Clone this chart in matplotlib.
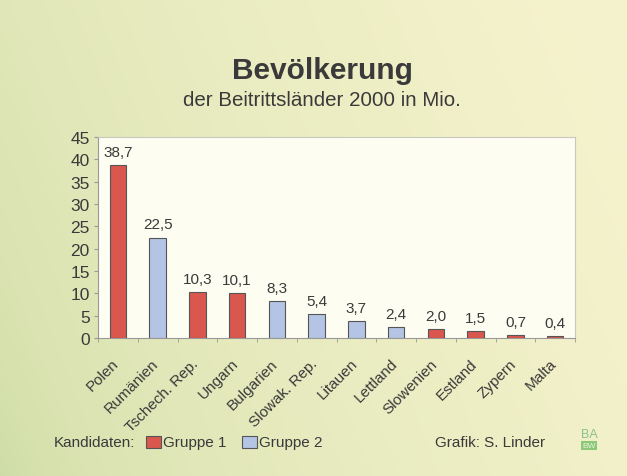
import numpy as np
import matplotlib
matplotlib.use("Agg")
import matplotlib.pyplot as plt
from matplotlib.patches import Rectangle
from matplotlib.transforms import ScaledTranslation

plt.rcParams['font.family'] = ['Liberation Sans', 'DejaVu Sans']

countries = ["Polen", "Rumänien", "Tschech. Rep.", "Ungarn", "Bulgarien", "Slowak. Rep.",
             "Litauen", "Lettland", "Slowenien", "Estland", "Zypern", "Malta"]
population = [38.7, 22.5, 10.3, 10.1, 8.3, 5.4, 3.7, 2.4, 2.0, 1.5, 0.7, 0.4]
groups = [1, 2, 1, 1, 2, 2, 2, 2, 1, 1, 1, 1]
value_labels = ["38,7", "22,5", "10,3", "10,1", "8,3", "5,4", "3,7", "2,4", "2,0", "1,5", "0,7", "0,4"]
yticks = [0, 5, 10, 15, 20, 25, 30, 35, 40, 45]

RED = "#d9574d"
BLUE = "#b4c4e4"
TXT = "#3a3a3a"

fig = plt.figure(figsize=(6.27, 4.77), dpi=100)

# background gradient
bg = fig.add_axes([0, 0, 1, 1], zorder=-10)
h, w = 120, 160
yy, xx = np.mgrid[0:h, 0:w]
t = np.clip((xx / w) * 0.85 + (1 - yy / h) * 0.25, 0, 1)
t = t ** 0.5
c_left = np.array([0.80, 0.86, 0.64])
c_right = np.array([0.96, 0.95, 0.80])
img = c_left[None, None, :] * (1 - t[..., None]) + c_right[None, None, :] * t[..., None]
bg.imshow(img, aspect='auto', extent=[0, 1, 0, 1], interpolation='bilinear')
bg.axis('off')

W, H = 627, 477
L, R, T, B = 98, 575, 138, 339
ax = fig.add_axes([L / W, 1 - B / H, (R - L) / W, (B - T) / H])
ax.set_facecolor("#fdfdf2")

x = np.arange(len(countries))
colors = [RED if g == 1 else BLUE for g in groups]
ax.bar(x, population, width=0.42, color=colors, edgecolor="#555555", linewidth=0.8, zorder=3)
for xi, v, lab in zip(x, population, value_labels):
    ax.text(xi, v + 1.4, lab, ha='center', va='bottom', fontsize=11, color=TXT)

ax.set_xlim(-0.5, len(countries) - 0.5)
ax.set_ylim(0, 45)
ax.set_yticks(yticks)
ax.set_yticklabels([str(v) for v in yticks], fontsize=12.5, color=TXT)
ax.set_xticks(x)
ax.set_xticklabels(countries, rotation=45, ha='right', rotation_mode='anchor', fontsize=11, color=TXT)
ax.tick_params(axis='x', length=0, pad=13)
for lab in ax.get_xticklabels():
    lab.set_transform(lab.get_transform() + ScaledTranslation(-0.06, 0, fig.dpi_scale_trans))
ax.set_xticks(np.arange(-0.5, len(countries), 1), minor=True)
ax.tick_params(axis='x', which='minor', length=3, color="#999999")
ax.tick_params(axis='y', length=3, color="#999999", pad=3)
for s in ax.spines.values():
    s.set_color("#c8c8c0")
    s.set_linewidth(0.8)
ax.spines['bottom'].set_color("#999999")
ax.spines['left'].set_color("#999999")

fig.text(322 / W, 1 - 71 / H, "Bevölkerung", ha='center', va='center', fontsize=21.5,
         fontweight='bold', color=TXT)
fig.text(322 / W, 1 - 101 / H, "der Beitrittsländer 2000 in Mio.", ha='center', va='center',
         fontsize=14.8, color=TXT)

# legend
ly = 1 - 443 / H
fig.text(54 / W, ly, "Kandidaten:", ha='left', va='center', fontsize=11, color=TXT)
pw, ph = 15 / W, 12 / H
fig.patches.append(Rectangle((146 / W, ly - ph / 2), pw, ph, transform=fig.transFigure,
                             facecolor=RED, edgecolor="#555555", linewidth=0.8))
fig.text(163 / W, ly, "Gruppe 1", ha='left', va='center', fontsize=11, color=TXT)
fig.patches.append(Rectangle((242 / W, ly - ph / 2), pw, ph, transform=fig.transFigure,
                             facecolor=BLUE, edgecolor="#555555", linewidth=0.8))
fig.text(259 / W, ly, "Gruppe 2", ha='left', va='center', fontsize=11, color=TXT)
fig.text(545 / W, ly, "Grafik: S. Linder", ha='right', va='center', fontsize=11, color=TXT)
fig.text(589 / W, 1 - 435 / H, "BA", ha='center', va='center', fontsize=9, color="#8cc08c")
fig.patches.append(Rectangle((581 / W, 1 - 451 / H), 16 / W, 9 / H, transform=fig.transFigure,
                             facecolor="#8cc878", edgecolor='none'))
fig.text(589 / W, 1 - 446.5 / H, "BW", ha='center', va='center', fontsize=6, color="#e8f4d8")

fig.savefig("out.png", dpi=100)
